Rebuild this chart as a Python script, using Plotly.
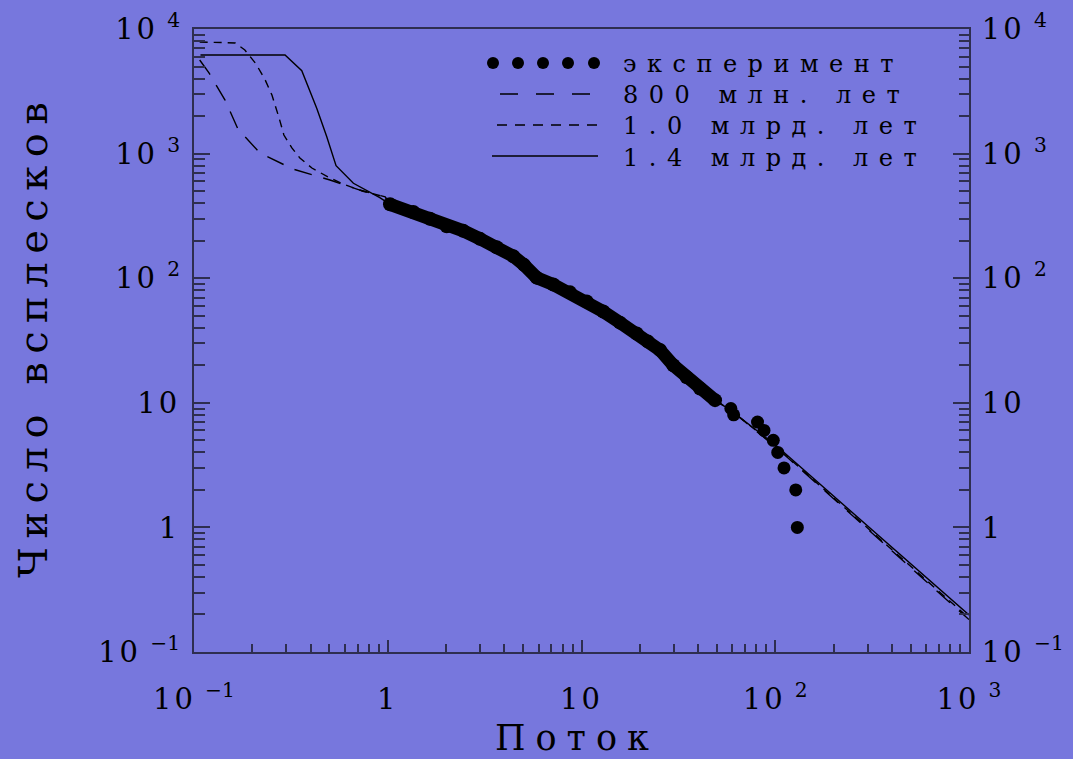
import plotly.graph_objects as go

# ---------------- data ----------------
# experiment: dense part of the cumulative distribution
exp_x = [1.027, 1.355, 1.652, 2.015, 2.454, 2.993, 3.65, 4.446, 5.049, 5.872, 7.153,
         8.722, 10.64, 12.95, 15.8, 19.27, 22.04, 25.42, 29.78, 34.91, 40.9, 48.9]
exp_y = [392, 340, 300, 261, 240, 207, 177, 150, 128, 101, 89,
         77, 65, 54, 44, 36, 31, 26.5, 20, 16, 13, 10.5]
# experiment: brightest individual events
exp_tail_x = [59, 61, 81, 87.5, 97.7, 103, 111, 127.6, 130]
exp_tail_y = [9, 8, 7, 6, 5, 4, 3, 2, 1]

# models: low-flux heads
m14_head_x = [0.108, 0.295, 0.360, 0.430, 0.484, 0.541, 0.665, 0.91]
m14_head_y = [6185, 6185, 4630, 2310, 1370, 800, 578, 443]
m10_head_x = [0.107, 0.163, 0.183, 0.209, 0.233, 0.2525, 0.275, 0.291, 0.320, 0.352,
              0.406, 0.492, 0.588, 0.737, 0.97]
m10_head_y = [7870, 7730, 6780, 5240, 3900, 2950, 1930, 1410, 1110, 922,
              766, 649, 570, 501, 449]
m08_head_x = [0.107, 0.1195, 0.1446, 0.1686, 0.219, 0.324, 0.503, 0.718, 0.97]
m08_head_y = [5640, 4440, 2690, 1575, 1010, 752, 614, 510, 449]
# models: common middle section (hidden under the data)
m_mid_x = [1.027, 1.355, 1.652, 2.015, 2.454, 2.993, 3.65, 4.446, 5.049, 5.872, 7.153,
           8.722, 10.64, 12.95, 15.8, 19.27, 22.04, 25.42, 29.78, 34.91, 40.9, 48.9]
m_mid_y = [392, 340, 300, 261, 240, 207, 177, 150, 128, 101, 89,
           77, 65, 54, 44, 36, 31, 26.5, 20, 16, 13, 10.5]
# models: high-flux tails
m_tail_x = [59.6, 100, 1000]
m14_tail_y = [8.6, 4.6, 0.198]
m10_tail_y = [8.6, 4.5, 0.187]
m08_tail_y = [8.6, 4.45, 0.182]

legend_labels = ["эксперимент", "800 млн. лет", "1.0 млрд. лет", "1.4 млрд. лет"]
x_tickvals = [0.1, 1, 10, 100, 1000]
x_ticktext = ["10 <sup>−1</sup>", "1", "10", "10 <sup>2</sup>", "10 <sup>3</sup>"]
y_tickvals = [0.1, 1, 10, 100, 1000, 10000]
y_ticktext = ["10 <sup>−1</sup>", "1", "10", "10 <sup>2</sup>", "10 <sup>3</sup>", "10 <sup>4</sup>"]

# ---------------- styling ----------------
BG = "#7777dd"
AX = "#2e2e50"
INK = "#000000"
FONT = "DejaVu Serif"

W, H = 1073, 759
L, R, T, B = 194, 104, 29, 107
PW, PH = W - L - R, H - T - B


def pxp(x):
    return (x - L) / PW


def pyp(y):
    return (H - B - y) / PH


def sp(text, ls):
    return f"<span style='letter-spacing:{ls}px'>{text}</span>"


fig = go.Figure()

line_w = 1.4
fig.add_trace(go.Scatter(x=m08_head_x + m_mid_x + m_tail_x, y=m08_head_y + m_mid_y + m08_tail_y,
                         mode="lines", line=dict(color=INK, width=line_w, dash="18px,12px"),
                         showlegend=False, hoverinfo="skip"))
fig.add_trace(go.Scatter(x=m10_head_x + m_mid_x + m_tail_x, y=m10_head_y + m_mid_y + m10_tail_y,
                         mode="lines", line=dict(color=INK, width=line_w, dash="8px,6px"),
                         showlegend=False, hoverinfo="skip"))
fig.add_trace(go.Scatter(x=m14_head_x + m_mid_x + m_tail_x, y=m14_head_y + m_mid_y + m14_tail_y,
                         mode="lines", line=dict(color=INK, width=line_w),
                         showlegend=False, hoverinfo="skip"))
fig.add_trace(go.Scatter(x=exp_x, y=exp_y, mode="lines+markers",
                         line=dict(color=INK, width=13),
                         marker=dict(color=INK, size=14),
                         showlegend=False, hoverinfo="skip"))
fig.add_trace(go.Scatter(x=exp_tail_x, y=exp_tail_y, mode="markers", yaxis="y2",
                         marker=dict(color=INK, size=13),
                         showlegend=False, hoverinfo="skip"))

x_minor = [m * 10 ** e for e in (-1, 0, 1, 2) for m in range(2, 10)]
y_minor = [m * 10 ** e for e in (-1, 0, 1, 2, 3) for m in range(2, 10)]

tick_font = dict(family=FONT, size=29, color=INK)
x_tt = [sp(t.split(" ")[0], 3) + (" " + t.split(" ")[1] if " " in t else "") for t in x_ticktext]
y_tt = [sp(t.split(" ")[0], 3) + (" " + t.split(" ")[1] if " " in t else "") for t in y_ticktext]

fig.update_layout(
    width=W, height=H,
    margin=dict(l=L, r=R, t=T, b=B, pad=0, autoexpand=False),
    paper_bgcolor=BG, plot_bgcolor=BG,
    showlegend=False,
    xaxis=dict(type="log", range=[-1, 3], showgrid=False, zeroline=False, automargin=False,
               showline=True, linecolor=AX, linewidth=2, mirror=True,
               ticks="inside", ticklen=12, tickwidth=1.5, tickcolor=AX,
               tickmode="array", tickvals=x_tickvals, ticktext=x_tt,
               tickfont=tick_font, ticklabelstandoff=20,
               minor=dict(ticks="inside", ticklen=8, tickwidth=1.5, tickcolor=AX,
                          tickvals=x_minor, showgrid=False)),
    yaxis=dict(type="log", range=[-1, 4], showgrid=False, zeroline=False, automargin=False,
               showline=True, linecolor=AX, linewidth=2, mirror=True,
               ticks="inside", ticklen=16, tickwidth=1.5, tickcolor=AX,
               tickmode="array", tickvals=y_tickvals, ticktext=y_tt,
               tickfont=tick_font, ticklabelstandoff=6,
               minor=dict(ticks="inside", ticklen=11, tickwidth=1.5, tickcolor=AX,
                          tickvals=y_minor, showgrid=False)),
    yaxis2=dict(type="log", range=[-1, 4], overlaying="y", side="right", automargin=False,
                showgrid=False, zeroline=False,
                showline=True, linecolor=AX, linewidth=2,
                ticks="inside", ticklen=16, tickwidth=1.5, tickcolor=AX,
                tickmode="array", tickvals=y_tickvals, ticktext=y_tt,
                tickfont=tick_font, ticklabelstandoff=5,
                minor=dict(ticks="inside", ticklen=10, tickwidth=1.5, tickcolor=AX,
                           tickvals=y_minor, showgrid=False)),
)

# axis titles
fig.add_annotation(x=pxp(33), y=pyp(336), xref="paper", yref="paper",
                   text=sp("Число всплесков", 8.5), textangle=-90, showarrow=False,
                   xanchor="center", yanchor="middle",
                   font=dict(family=FONT, size=40, color=INK))
fig.add_annotation(x=pxp(577), y=pyp(738), xref="paper", yref="paper",
                   text=sp("Поток", 10), showarrow=False,
                   xanchor="center", yanchor="middle",
                   font=dict(family=FONT, size=35, color=INK))

# custom legend (one multi-line text block)
rows = [63, 94, 125, 156]
legend_text = "<br>".join(sp(lab, 10.5) for lab in legend_labels)
fig.add_annotation(x=pxp(621), y=pyp(rows[0] - 15), xref="paper", yref="paper",
                   text=legend_text, showarrow=False, xanchor="left", yanchor="top",
                   align="left", font=dict(family=FONT, size=24, color=INK))
for cx in [493, 518, 543, 568, 594]:
    fig.add_shape(type="circle", xref="paper", yref="paper",
                  x0=pxp(cx - 6), x1=pxp(cx + 6), y0=pyp(rows[0] + 6), y1=pyp(rows[0] - 6),
                  fillcolor=INK, line=dict(color=INK, width=0))
fig.add_shape(type="line", xref="paper", yref="paper", x0=pxp(500), x1=pxp(598),
              y0=pyp(rows[1]), y1=pyp(rows[1]), line=dict(color=INK, width=1.5, dash="18px,18px"))
fig.add_shape(type="line", xref="paper", yref="paper", x0=pxp(497), x1=pxp(598),
              y0=pyp(rows[2]), y1=pyp(rows[2]), line=dict(color=INK, width=1.5, dash="10px,8px"))
fig.add_shape(type="line", xref="paper", yref="paper", x0=pxp(492), x1=pxp(598),
              y0=pyp(rows[3]), y1=pyp(rows[3]), line=dict(color=INK, width=1.5))

fig.write_html("out.html")
